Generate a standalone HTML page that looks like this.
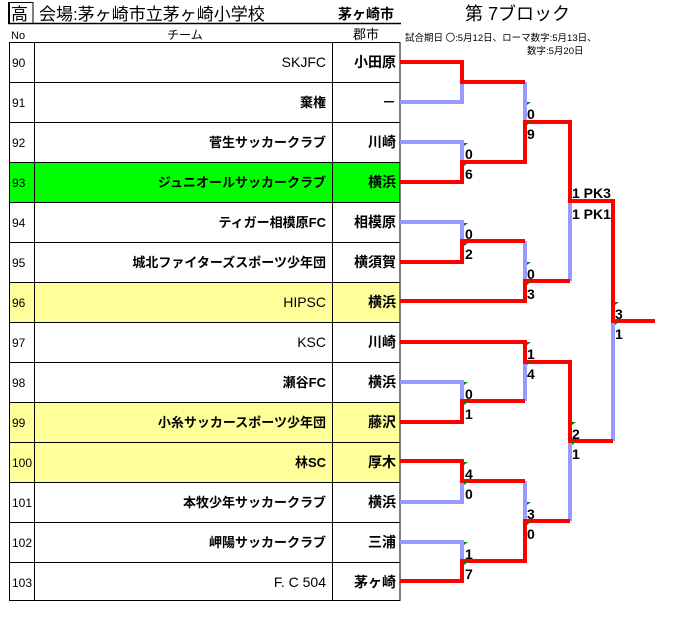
<!DOCTYPE html>
<html><head><meta charset="utf-8"><style>
html,body{margin:0;padding:0;background:#fff;width:683px;height:624px;overflow:hidden}
svg text{font-family:"Liberation Sans","Noto Sans CJK JP",sans-serif}
</style></head><body>
<svg width="683" height="624" viewBox="0 0 683 624" xmlns="http://www.w3.org/2000/svg">
<rect x="9" y="2.5" width="24" height="21" fill="none" stroke="#000" stroke-width="1"/>
<line x1="9" y1="2" x2="9" y2="24" stroke="#000" stroke-width="2"/>
<text x="11" y="20" font-size="17">高</text>
<text x="39" y="20" font-size="17">会場:茅ヶ崎市立茅ヶ崎小学校</text>
<text x="338" y="19" font-size="14" font-weight="bold">茅ヶ崎市</text>
<line x1="8" y1="23.5" x2="401" y2="23.5" stroke="#000" stroke-width="1.5"/>
<text x="465" y="20" font-size="18">第  7ブロック</text>
<text x="11" y="39" font-size="11">No</text>
<text x="185" y="39" font-size="12" text-anchor="middle">チーム</text>
<text x="353" y="39" font-size="13">郡市</text>
<text x="405" y="41" font-size="9.5">試合期日  〇:5月12日、ローマ数字:5月13日、</text>
<text x="527" y="54" font-size="9.5">数字:5月20日</text>
<rect x="9" y="162" width="391" height="40" fill="#00ff00"/>
<rect x="9" y="282" width="391" height="40" fill="#ffff99"/>
<rect x="9" y="402" width="391" height="80" fill="#ffff99"/>
<g stroke="#000" stroke-width="1" fill="none">
<rect x="9.5" y="42.5" width="390.5" height="558"/>
<line x1="34.5" y1="42" x2="34.5" y2="601"/>
<line x1="332.5" y1="42" x2="332.5" y2="601"/>
<line x1="9" y1="82.5" x2="400" y2="82.5"/><line x1="9" y1="122.5" x2="400" y2="122.5"/>
<line x1="9" y1="162.5" x2="400" y2="162.5"/><line x1="9" y1="202.5" x2="400" y2="202.5"/>
<line x1="9" y1="242.5" x2="400" y2="242.5"/><line x1="9" y1="282.5" x2="400" y2="282.5"/>
<line x1="9" y1="322.5" x2="400" y2="322.5"/><line x1="9" y1="362.5" x2="400" y2="362.5"/>
<line x1="9" y1="402.5" x2="400" y2="402.5"/><line x1="9" y1="442.5" x2="400" y2="442.5"/>
<line x1="9" y1="482.5" x2="400" y2="482.5"/><line x1="9" y1="522.5" x2="400" y2="522.5"/>
<line x1="9" y1="562.5" x2="400" y2="562.5"/>
</g>
<g font-size="12">
<text x="12" y="67">90</text><text x="12" y="107">91</text><text x="12" y="147">92</text><text x="12" y="187">93</text>
<text x="12" y="227">94</text><text x="12" y="267">95</text><text x="12" y="307">96</text><text x="12" y="347">97</text>
<text x="12" y="387">98</text><text x="12" y="427">99</text><text x="12" y="467">100</text><text x="12" y="507">101</text>
<text x="12" y="547">102</text><text x="12" y="587">103</text>
</g>
<g font-size="13" text-anchor="end" font-weight="bold">
<text x="326" y="67" font-weight="normal" font-size="14">SKJFC</text>
<text x="326" y="107">棄権</text>
<text x="326" y="147">菅生サッカークラブ</text>
<text x="326" y="187">ジュニオールサッカークラブ</text>
<text x="326" y="227">ティガー相模原FC</text>
<text x="326" y="267">城北ファイターズスポーツ少年団</text>
<text x="326" y="307" font-weight="normal" font-size="14">HIPSC</text>
<text x="326" y="347" font-weight="normal" font-size="14">KSC</text>
<text x="326" y="387">瀬谷FC</text>
<text x="326" y="427">小糸サッカースポーツ少年団</text>
<text x="326" y="467">林SC</text>
<text x="326" y="507">本牧少年サッカークラブ</text>
<text x="326" y="547">岬陽サッカークラブ</text>
<text x="326" y="587" font-weight="normal" font-size="14">F. C 504</text>
</g>
<g font-size="14" text-anchor="end" font-weight="bold">
<text x="396" y="67">小田原</text><text x="396" y="107">－</text><text x="396" y="147">川崎</text>
<text x="396" y="187">横浜</text><text x="396" y="227">相模原</text><text x="396" y="267">横須賀</text>
<text x="396" y="307">横浜</text><text x="396" y="347">川崎</text><text x="396" y="387">横浜</text>
<text x="396" y="427">藤沢</text><text x="396" y="467">厚木</text><text x="396" y="507">横浜</text>
<text x="396" y="547">三浦</text><text x="396" y="587">茅ヶ崎</text>
</g>
<g stroke="#9999ff" stroke-width="4" fill="none">
<polyline points="400,102 462,102 462,82"/>
<polyline points="400,142 462,142 462,162"/>
<polyline points="400,222 462,222 462,242"/>
<line x1="525" y1="82" x2="525" y2="122"/>
<line x1="525" y1="241" x2="525" y2="281"/>
<line x1="570" y1="201" x2="570" y2="281"/>
<line x1="613" y1="321" x2="613" y2="441"/>
<polyline points="400,382 462,382 462,401"/>
<line x1="525" y1="362" x2="525" y2="401"/>
<polyline points="400,502 462,502 462,481"/>
<polyline points="400,542 462,542 462,561"/>
<line x1="525" y1="481" x2="525" y2="521"/>
<line x1="570" y1="441" x2="570" y2="521"/>
</g>
<g stroke="#ff0000" stroke-width="4" fill="none" stroke-linejoin="miter">
<polyline points="400,62 462,62 462,82 525,82"/>
<polyline points="400,182 462,182 462,162 525,162 525,122 570,122 570,201 613,201 613,321 655,321"/>
<polyline points="400,262 462,262 462,241 525,241"/>
<polyline points="400,301 525,301 525,281 570,281"/>
<polyline points="400,342 525,342 525,362 570,362 570,441 613,441"/>
<polyline points="400,422 462,422 462,401 525,401"/>
<polyline points="400,461 462,461 462,481 525,481"/>
<polyline points="400,581 462,581 462,561 525,561 525,521 570,521"/>
</g>
<g fill="#008000">
<path d="M464,143h4l-4,3z"/><path d="M464,163h4l-4,3z"/>
<path d="M464,223h4l-4,3z"/><path d="M464,243h4l-4,3z"/>
<path d="M527,102h4l-4,3z"/><path d="M527,122h4l-4,3z"/>
<path d="M527,262h4l-4,3z"/><path d="M527,282h4l-4,3z"/>
<path d="M615,302h4l-4,3z"/><path d="M615,322h4l-4,3z"/>
<path d="M527,342h4l-4,3z"/><path d="M527,362h4l-4,3z"/>
<path d="M464,382h4l-4,3z"/><path d="M464,402h4l-4,3z"/>
<path d="M572,422h4l-4,3z"/><path d="M572,442h4l-4,3z"/>
<path d="M464,462h4l-4,3z"/><path d="M464,482h4l-4,3z"/>
<path d="M527,502h4l-4,3z"/><path d="M527,522h4l-4,3z"/>
<path d="M464,542h4l-4,3z"/><path d="M464,562h4l-4,3z"/>
</g>
<g font-size="14" font-weight="bold">
<text x="465" y="159">0</text><text x="465" y="179">6</text>
<text x="465" y="239">0</text><text x="465" y="259">2</text>
<text x="527" y="119">0</text><text x="527" y="139">9</text>
<text x="527" y="279">0</text><text x="527" y="299">3</text>
<text x="572" y="198">1 PK3</text><text x="572" y="219">1 PK1</text>
<text x="615" y="319">3</text><text x="615" y="339">1</text>
<text x="527" y="359">1</text><text x="527" y="379">4</text>
<text x="465" y="399">0</text><text x="465" y="419">1</text>
<text x="572" y="439">2</text><text x="572" y="459">1</text>
<text x="465" y="479">4</text><text x="465" y="499">0</text>
<text x="527" y="519">3</text><text x="527" y="539">0</text>
<text x="465" y="559">1</text><text x="465" y="579">7</text>
</g>
</svg>
</body></html>
